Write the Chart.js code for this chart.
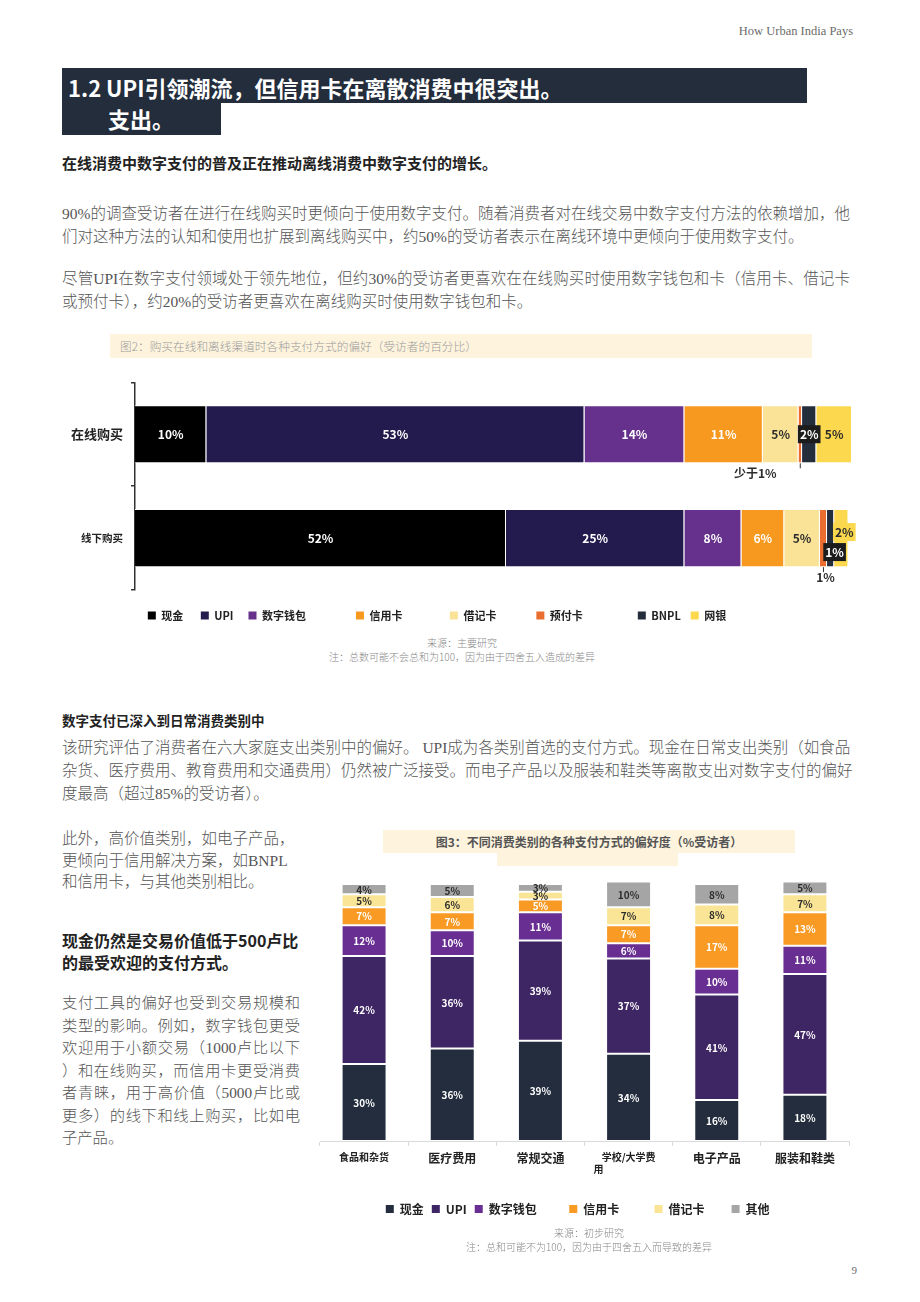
<!DOCTYPE html>
<html lang="zh">
<head>
<meta charset="utf-8">
<title>How Urban India Pays</title>
<script src="https://cdn.jsdelivr.net/npm/chart.js@4.4.1/dist/chart.umd.min.js"></script>
<style>
html, body { margin: 0; padding: 0; background: #fff; }
body { width: 920px; height: 1302px; position: relative; overflow: hidden; font-family: "Noto Sans CJK SC", sans-serif; }
.abs { position: absolute; }
.runner { right: 67px; top: 24px; font: 12.5px "Liberation Serif", serif; color: #6b6b6b; }
.pageno { right: 63px; top: 1264px; font: 11px "Liberation Serif", serif; color: #6b6b6b; }
.hbox { background: #232d3b; }
.htext { color: #fff; font-weight: 700; font-size: 22px; line-height: 30px; white-space: nowrap; }
.lead { font-weight: 700; color: #222; white-space: nowrap; }
.para { font-family: "Liberation Serif", "Noto Sans CJK SC", serif; font-weight: 300; color: #555; }
.para div { white-space: nowrap; }
.para div.j { text-align: justify; text-align-last: justify; }
.note { font-weight: 300; font-size: 10px; line-height: 14px; color: #888; text-align: center; }
.figbox { background: #fef4de; }
</style>
</head>
<body>

<div class="abs runner">How Urban India Pays</div>

<div class="abs hbox" style="left:62px; top:68px; width:745px; height:35px;"></div>
<div class="abs hbox" style="left:62px; top:103px; width:159px; height:32px;"></div>
<div class="abs htext" style="left:68px; top:72px;">1.2 UPI引领潮流，但信用卡在离散消费中很突出。</div>
<div class="abs htext" style="left:108px; top:103px;">支出。</div>

<div class="abs lead" style="left:62px; top:152px; font-size:15px; line-height:22px;">在线消费中数字支付的普及正在推动离线消费中数字支付的增长。</div>

<div class="abs para" style="left:62px; top:202px; width:788px; font-size:15.5px; line-height:23px;">
  <div class="j">90%的调查受访者在进行在线购买时更倾向于使用数字支付。随着消费者对在线交易中数字支付方法的依赖增加，他</div>
  <div>们对这种方法的认知和使用也扩展到离线购买中，约50%的受访者表示在离线环境中更倾向于使用数字支付。</div>
</div>

<div class="abs para" style="left:62px; top:267px; width:788px; font-size:15.5px; line-height:23px;">
  <div class="j">尽管UPI在数字支付领域处于领先地位，但约30%的受访者更喜欢在在线购买时使用数字钱包和卡（信用卡、借记卡</div>
  <div>或预付卡），约20%的受访者更喜欢在离线购买时使用数字钱包和卡。</div>
</div>

<div class="abs figbox" style="left:110px; top:334px; width:702px; height:24px;"></div>
<div class="abs" style="left:120px; top:334px; font-size:11.7px; line-height:24px; font-weight:300; color:#999;">图2：购买在线和离线渠道时各种支付方式的偏好（受访者的百分比）</div>

<div class="abs" style="left:62px; top:368px; width:800px; height:264px;"><canvas id="channelChart"></canvas></div>

<div class="abs note" style="left:262px; top:636px; width:400px;">来源：主要研究<br>注：总数可能不会总和为100，因为由于四舍五入造成的差异</div>

<div class="abs lead" style="left:62px; top:710px; font-size:13.5px; line-height:20px;">数字支付已深入到日常消费类别中</div>

<div class="abs para" style="left:62px; top:736px; width:788px; font-size:15.5px; line-height:23px;">
  <div class="j">该研究评估了消费者在六大家庭支出类别中的偏好。 UPI成为各类别首选的支付方式。现金在日常支出类别（如食品</div>
  <div class="j">杂货、医疗费用、教育费用和交通费用）仍然被广泛接受。而电子产品以及服装和鞋类等离散支出对数字支付的偏好</div>
  <div>度最高（超过85%的受访者）。</div>
</div>

<div class="abs para" style="left:62px; top:828px; width:238px; font-size:15.5px; line-height:21.5px;">
  <div>此外，高价值类别，如电子产品，</div>
  <div>更倾向于信用解决方案，如BNPL</div>
  <div>和信用卡，与其他类别相比。</div>
</div>

<div class="abs lead" style="left:62px; top:929px; font-size:16px; line-height:22px;">现金仍然是交易价值低于500卢比<br>的最受欢迎的支付方式。</div>

<div class="abs para" style="left:62px; top:992px; width:238px; font-size:15.3px; line-height:22.5px;">
  <div class="j">支付工具的偏好也受到交易规模和</div>
  <div class="j">类型的影响。例如，数字钱包更受</div>
  <div class="j">欢迎用于小额交易（1000卢比以下</div>
  <div class="j">）和在线购买，而信用卡更受消费</div>
  <div class="j">者青睐，用于高价值（5000卢比或</div>
  <div class="j">更多）的线下和线上购买，比如电</div>
  <div>子产品。</div>
</div>

<div class="abs figbox" style="left:383px; top:830px; width:412px; height:23px;"></div>
<div class="abs figbox" style="left:497px; top:853px; width:181px; height:13px;"></div>
<div class="abs" style="left:383px; top:830px; width:412px; font-size:12px; line-height:23px; font-weight:700; color:#555; text-align:center;">图3：不同消费类别的各种支付方式的偏好度（%受访者）</div>

<div class="abs" style="left:310px; top:871px; width:550px; height:356px;"><canvas id="categoryChart"></canvas></div>

<div class="abs note" style="left:389px; top:1226px; width:400px;">来源：初步研究<br>注：总和可能不为100，因为由于四舍五入而导致的差异</div>

<div class="abs pageno">9</div>

<script>
/* ============= Data: ============= */
// figure 2: share of respondents (%) by channel
var channelLabels = ['在线购买', '线下购买'];
var cashShare = [10, 52];
var upiShare = [53, 25];
var walletShare = [14, 8];
var creditShare = [11, 6];
var debitShare = [5, 5];
var prepaidShare = [0.5, 1];   // online is "less than 1%"
var bnplShare = [2, 1];
var netbankShare = [5, 2];

// figure 3: share of respondents (%) by spending category
var categoryLabels = ['食品和杂货', '医疗费用', '常规交通', '学校/大学费用', '电子产品', '服装和鞋类'];
var cashByCat = [30, 36, 39, 34, 16, 18];
var upiByCat = [42, 36, 39, 37, 41, 47];
var walletByCat = [12, 10, 11, 6, 10, 11];
var creditByCat = [7, 7, 5, 7, 17, 13];
var debitByCat = [5, 6, 3, 7, 8, 7];
var otherByCat = [4, 5, 3, 10, 8, 5];

/* ============= Setup: ============= */
Chart.defaults.font.family = "'Noto Sans CJK SC', 'Noto Sans', sans-serif";
Chart.defaults.color = '#222';

function pctText(v) {
	return v < 1 ? '少于1%' : v + '%';
}

// legend text padded with spaces so the items spread like the original
function spacedLegend(extra) {
	return function(chart) {
		var items = Chart.defaults.plugins.legend.labels.generateLabels(chart);
		items.forEach(function(item, k) {
			item.text = item.text + ' '.repeat(extra[k] || 0);
			item.lineWidth = 0;
		});
		return items;
	};
}

// draws the value inside each segment, with a few moved/boxed ones
var segmentLabels = {
	id: 'segmentLabels',
	afterDatasetsDraw: function(chart, args, opts) {
		var ctx = chart.ctx;
		var across = chart.options.indexAxis === 'y';
		ctx.save();
		ctx.font = opts.font;
		ctx.textAlign = 'center';
		ctx.textBaseline = 'middle';
		chart.data.datasets.forEach(function(ds, i) {
			var meta = chart.getDatasetMeta(i);
			meta.data.forEach(function(bar, j) {
				var p = bar.getProps(['x', 'y', 'base', 'width', 'height'], true);
				var cx = across ? (p.x + p.base) / 2 : p.x;
				var cy = across ? p.y : (p.y + p.base) / 2;
				var text = pctText(ds.data[j]);
				var color = opts.darkText.indexOf(i) !== -1 ? '#2b2b2b' : '#ffffff';
				var tweak = opts.tweak ? opts.tweak(i, j) : null;
				if (tweak && tweak.below) {
					var bottom = p.y + p.height / 2;
					ctx.strokeStyle = '#333';
					ctx.lineWidth = 1;
					ctx.beginPath();
					ctx.moveTo(cx, bottom);
					ctx.lineTo(cx, bottom + 5);
					ctx.stroke();
					ctx.fillStyle = '#2b2b2b';
					ctx.fillText(text, cx + (tweak.dx || 0), bottom + 10);
					return;
				}
				if (tweak) {
					cx += tweak.dx || 0;
					cy += tweak.dy || 0;
					var w = ctx.measureText(text).width + 4;
					ctx.fillStyle = tweak.box;
					ctx.fillRect(cx - w / 2, cy - 9, w, 18);
					color = tweak.color;
				}
				ctx.fillStyle = color;
				ctx.fillText(text, cx, cy + 0.5);
			});
		});
		ctx.restore();
	}
};

function channelTweak(i, j) {
	if (i === 5) return { below: true, dx: j === 0 ? -45 : 2 };
	if (i === 6) return { box: '#1c1c1c', color: '#fff', dx: j === 0 ? 0 : 4, dy: j === 0 ? 0 : 14 };
	if (i === 7 && j === 1) return { box: '#fbd84e', color: '#2b2b2b', dx: 3, dy: -6 };
	return null;
}

function barSet(label, data, color, skip) {
	return {
		label: label,
		data: data,
		backgroundColor: color,
		borderColor: '#ffffff',
		borderWidth: 1,
		borderSkipped: skip
	};
}

/* ============= Charts: ============= */
function drawChannelChart() {
	var ctx = document.getElementById('channelChart').getContext('2d');
	new Chart(ctx, {
		type: 'bar',
		data: {
			labels: channelLabels,
			datasets: [
				barSet('现金', cashShare, '#000000', 'start'),
				barSet('UPI', upiShare, '#231b4d', 'start'),
				barSet('数字钱包', walletShare, '#66318d', 'start'),
				barSet('信用卡', creditShare, '#f7981f', 'start'),
				barSet('借记卡', debitShare, '#fae397', 'start'),
				barSet('预付卡', prepaidShare, '#eb6d2f', 'start'),
				barSet('BNPL', bnplShare, '#232d3b', 'start'),
				barSet('网银', netbankShare, '#fbd84e', 'start')
			]
		},
		options: {
			indexAxis: 'y',
			animation: false,
			responsive: true,
			maintainAspectRatio: false,
			datasets: { bar: { categoryPercentage: 1, barPercentage: 0.56 } },
			layout: { padding: { top: 10, right: 10, bottom: 1, left: 0 } },
			scales: {
				x: {
					stacked: true, min: 0, max: 100.5,
					ticks: { display: false },
					grid: { display: false },
					border: { display: false },
					afterFit: function(s) { s.height = 10; }
				},
				y: {
					stacked: true,
					afterFit: function(s) { s.width = 73; },
					border: { color: '#333', width: 1.5 },
					grid: { drawOnChartArea: false, color: '#333', lineWidth: 1.5, tickLength: 4 },
					ticks: {
						color: '#222',
						padding: 8,
						font: function(c) { return { size: c.index === 0 ? 13 : 10.5, weight: 'bold' }; }
					}
				}
			},
			plugins: {
				tooltip: { enabled: false },
				legend: {
					position: 'bottom',
					labels: {
						boxWidth: 8, boxHeight: 8, padding: 10,
						color: '#222',
						font: { size: 11, weight: 'bold' },
						generateLabels: spacedLegend([3, 2, 16, 15, 12, 18, 0, 16])
					}
				},
				segmentLabels: {
					font: "bold 12px 'Noto Sans CJK SC', sans-serif",
					darkText: [4, 7],
					tweak: channelTweak
				}
			}
		},
		plugins: [segmentLabels]
	});
}

function drawCategoryChart() {
	var ctx = document.getElementById('categoryChart').getContext('2d');
	new Chart(ctx, {
		type: 'bar',
		data: {
			labels: categoryLabels,
			datasets: [
				barSet('现金', cashByCat, '#232d3d', false),
				barSet('UPI', upiByCat, '#3e2563', false),
				barSet('数字钱包', walletByCat, '#692e91', false),
				barSet('信用卡', creditByCat, '#f89a24', false),
				barSet('借记卡', debitByCat, '#fae496', false),
				barSet('其他', otherByCat, '#a5a5a5', false)
			]
		},
		options: {
			animation: false,
			responsive: true,
			maintainAspectRatio: false,
			datasets: { bar: { categoryPercentage: 1, barPercentage: 0.51 } },
			layout: { padding: { top: 10.5, right: 11, bottom: 2, left: 10 } },
			scales: {
				x: {
					stacked: true,
					afterFit: function(s) { s.height = 54; },
					border: { color: '#d9d9d9' },
					grid: { drawOnChartArea: false, color: '#d9d9d9', tickLength: 5 },
					ticks: {
						color: '#222',
						padding: 5,
						maxRotation: 0,
						autoSkip: false,
						font: function(c) { return { size: (c.index === 0 || c.index === 3) ? 10 : 12, weight: 'bold' }; },
						callback: function(v, k) {
							var name = categoryLabels[k];
							// the long label wraps, last char on its own line
							if (name.length > 6) return [name.slice(0, 6), name.slice(6) + '\u3000\u3000\u3000\u3000\u3000\u3000'];
							return name;
						}
					}
				},
				y: { stacked: true, display: false, min: 0, max: 101 }
			},
			plugins: {
				tooltip: { enabled: false },
				legend: {
					position: 'bottom',
					labels: {
						boxWidth: 8, boxHeight: 8, padding: 8,
						color: '#222',
						font: { size: 12, weight: 'bold' },
						generateLabels: spacedLegend([0, 0, 9, 10, 7, 5])
					}
				},
				segmentLabels: {
					font: "bold 10px 'Noto Sans CJK SC', sans-serif",
					darkText: [4, 5]
				}
			}
		},
		plugins: [segmentLabels]
	});
}

drawChannelChart();
drawCategoryChart();
</script>
</body>
</html>
